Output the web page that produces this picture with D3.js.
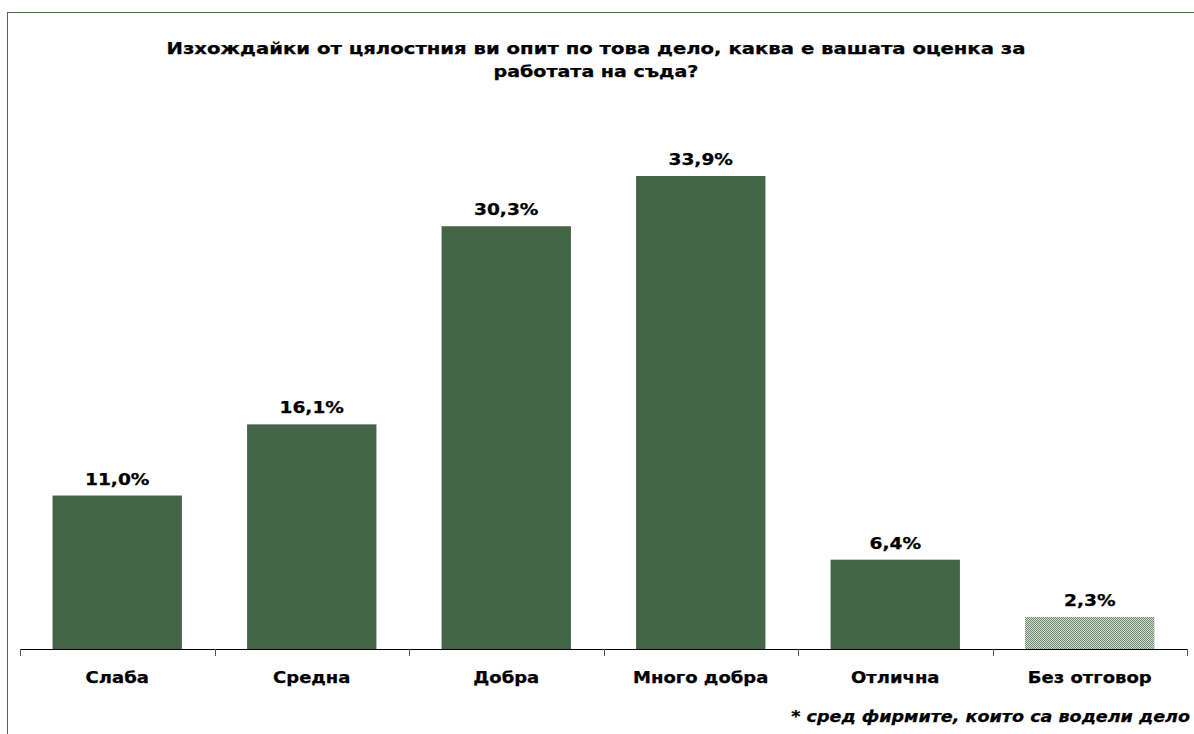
<!DOCTYPE html>
<html>
<head>
<meta charset="utf-8">
<script src="https://cdn.jsdelivr.net/npm/d3@7"></script>
<style>
html,body{margin:0;padding:0;background:#fff;}
svg{display:block;}
text{font-family:"DejaVu Sans";font-weight:700;fill:#000;stroke:#000;stroke-width:0.25px;}
</style>
</head>
<body>
<svg id="chart" width="1194" height="734"></svg>
<script>
const categories = ["Слаба","Средна","Добра","Много добра","Отлична","Без отговор"];
const values = [11.0, 16.1, 30.3, 33.9, 6.4, 2.3];
const valueLabels = ["11,0%","16,1%","30,3%","33,9%","6,4%","2,3%"];
const titleLines = ["Изхождайки от цялостния ви опит по това дело, каква е вашата оценка за","работата на съда?"];
const footnote = "* сред фирмите, които са водели дело";

const svg = d3.select("#chart");
const W = 1194, H = 734;

// widen glyphs to mimic a wide bold face
function widen(sel, f){
  sel.each(function(d,i){
    const k = typeof f === "function" ? f(d,i) : f;
    const len = this.getComputedTextLength();
    d3.select(this).attr("textLength", len*k).attr("lengthAdjust","spacingAndGlyphs");
  });
}

svg.append("rect").attr("x",7.5).attr("y",12.5).attr("width",W+20).attr("height",H+20)
  .attr("fill","#fff").attr("stroke","#4b6b4b").attr("stroke-width",1);

const defs = svg.append("defs");
const pat = defs.append("pattern").attr("id","chk").attr("patternUnits","userSpaceOnUse")
  .attr("width",2).attr("height",2);
pat.append("rect").attr("width",2).attr("height",2).attr("fill","#d3ddd2");
pat.append("rect").attr("width",1).attr("height",1).attr("fill","#6d8a6e");
pat.append("rect").attr("x",1).attr("y",1).attr("width",1).attr("height",1).attr("fill","#6d8a6e");

const x = d3.scaleBand().domain(categories).range([20,1187]).paddingInner(0.335).paddingOuter(0.1675);
const y = d3.scaleLinear().domain([0,33.9]).range([649,176]);

// title
const titleSel = svg.selectAll("text.title").data(titleLines).join("text").attr("class","title")
  .attr("x",596).attr("y",(d,i)=>54+i*23).attr("text-anchor","middle").style("font-size","15px")
  .text(d=>d);
widen(titleSel, (d,i)=> i===0 ? 1.31 : 1.27);

// bars
svg.selectAll("rect.bar").data(values).join("rect").attr("class","bar")
  .attr("x",(d,i)=>x(categories[i])).attr("width",x.bandwidth())
  .attr("y",d=>y(d)).attr("height",d=>y(0)-y(d))
  .attr("fill",(d,i)=>i===5?"url(#chk)":"#436446");

// value labels
const valSel = svg.selectAll("text.val").data(values).join("text").attr("class","val")
  .attr("x",(d,i)=>x(categories[i])+x.bandwidth()/2).attr("y",d=>y(d)-11)
  .attr("text-anchor","middle").style("font-size","15px")
  .text((d,i)=>valueLabels[i]);
widen(valSel, 1.24);

// axis
svg.append("line").attr("x1",20).attr("x2",1187).attr("y1",649.5).attr("y2",649.5)
  .attr("stroke","#000").attr("stroke-width",1.2);
const bounds = categories.map((c,i)=>20 + i*(1167/6)).concat([1187]);
svg.selectAll("line.tick").data(bounds).join("line").attr("class","tick")
  .attr("x1",d=>Math.round(d)+0.5).attr("x2",d=>Math.round(d)+0.5).attr("y1",649).attr("y2",656)
  .attr("stroke","#555").attr("stroke-width",1);

const catSel = svg.selectAll("text.cat").data(categories).join("text").attr("class","cat")
  .attr("x",d=>x(d)+x.bandwidth()/2).attr("y",683)
  .attr("text-anchor","middle").style("font-size","15px").text(d=>d);
widen(catSel, 1.2);

const fn = svg.append("text").attr("x",1190).attr("y",722).attr("text-anchor","end")
  .style("font-size","15px").style("font-style","italic").text(footnote);
widen(fn, 1.17);
</script>
</body>
</html>
